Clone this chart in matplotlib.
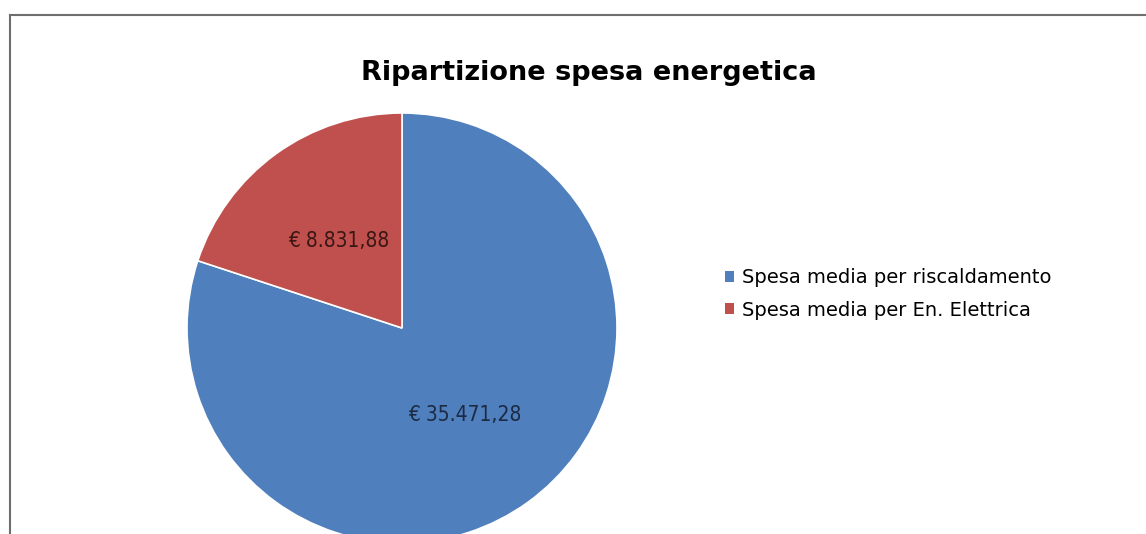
import matplotlib.pyplot as plt
from matplotlib.lines import Line2D
from matplotlib.patches import Patch

categories = ["Spesa media per riscaldamento", "Spesa media per En. Elettrica"]
values = [35471.28, 8831.88]
colors = ["#4f7fbd", "#c0504d"]
title = "Ripartizione spesa energetica"


def euro(v):
    s = f"{v:,.2f}".replace(",", "X").replace(".", ",").replace("X", ".")
    return "€ " + s


total = sum(values)

fig = plt.figure(figsize=(11.46, 5.34), dpi=100)
ax = fig.add_axes([0, 0, 1, 1])

wedges, texts, autotexts = ax.pie(
    values, colors=colors, startangle=90, counterclock=False,
    center=(402, 206), radius=215, frame=True,
    autopct=lambda p: euro(p * total / 100), pctdistance=0.5,
    wedgeprops=dict(edgecolor="white", linewidth=1.2),
    textprops=dict(fontsize=15, family="DejaVu Sans", fontstretch="condensed"),
)
ax.set_xlim(0, 1146)
ax.set_ylim(0, 534)
ax.set_aspect("equal")
ax.axis("off")
autotexts[0].set_color("#1c2a44")
autotexts[1].set_color("#3a1614")

fig.text(589 / 1146, 1 - 80 / 534, title, ha="center", va="baseline",
         fontsize=19.5, fontweight="bold", family="DejaVu Sans")

handles = [Patch(facecolor=c, edgecolor="none") for c in colors]
fig.legend(handles, categories, loc="center left",
           bbox_to_anchor=(725 / 1146, 1 - 294 / 534), frameon=False,
           borderpad=0, borderaxespad=0,
           handlelength=0.46, handleheight=0.46, handletextpad=0.4,
           labelspacing=0.68, prop=dict(family="DejaVu Sans", size=14))

# chart frame (only top and left edges visible in the crop)
fig.add_artist(Line2D([10 / 1146, 10 / 1146], [0, 1 - 15 / 534],
                      transform=fig.transFigure, color="#6e6e6e", lw=1.5))
fig.add_artist(Line2D([10 / 1146, 1], [1 - 15 / 534, 1 - 15 / 534],
                      transform=fig.transFigure, color="#6e6e6e", lw=1.5))

fig.savefig("out.png", dpi=100)
